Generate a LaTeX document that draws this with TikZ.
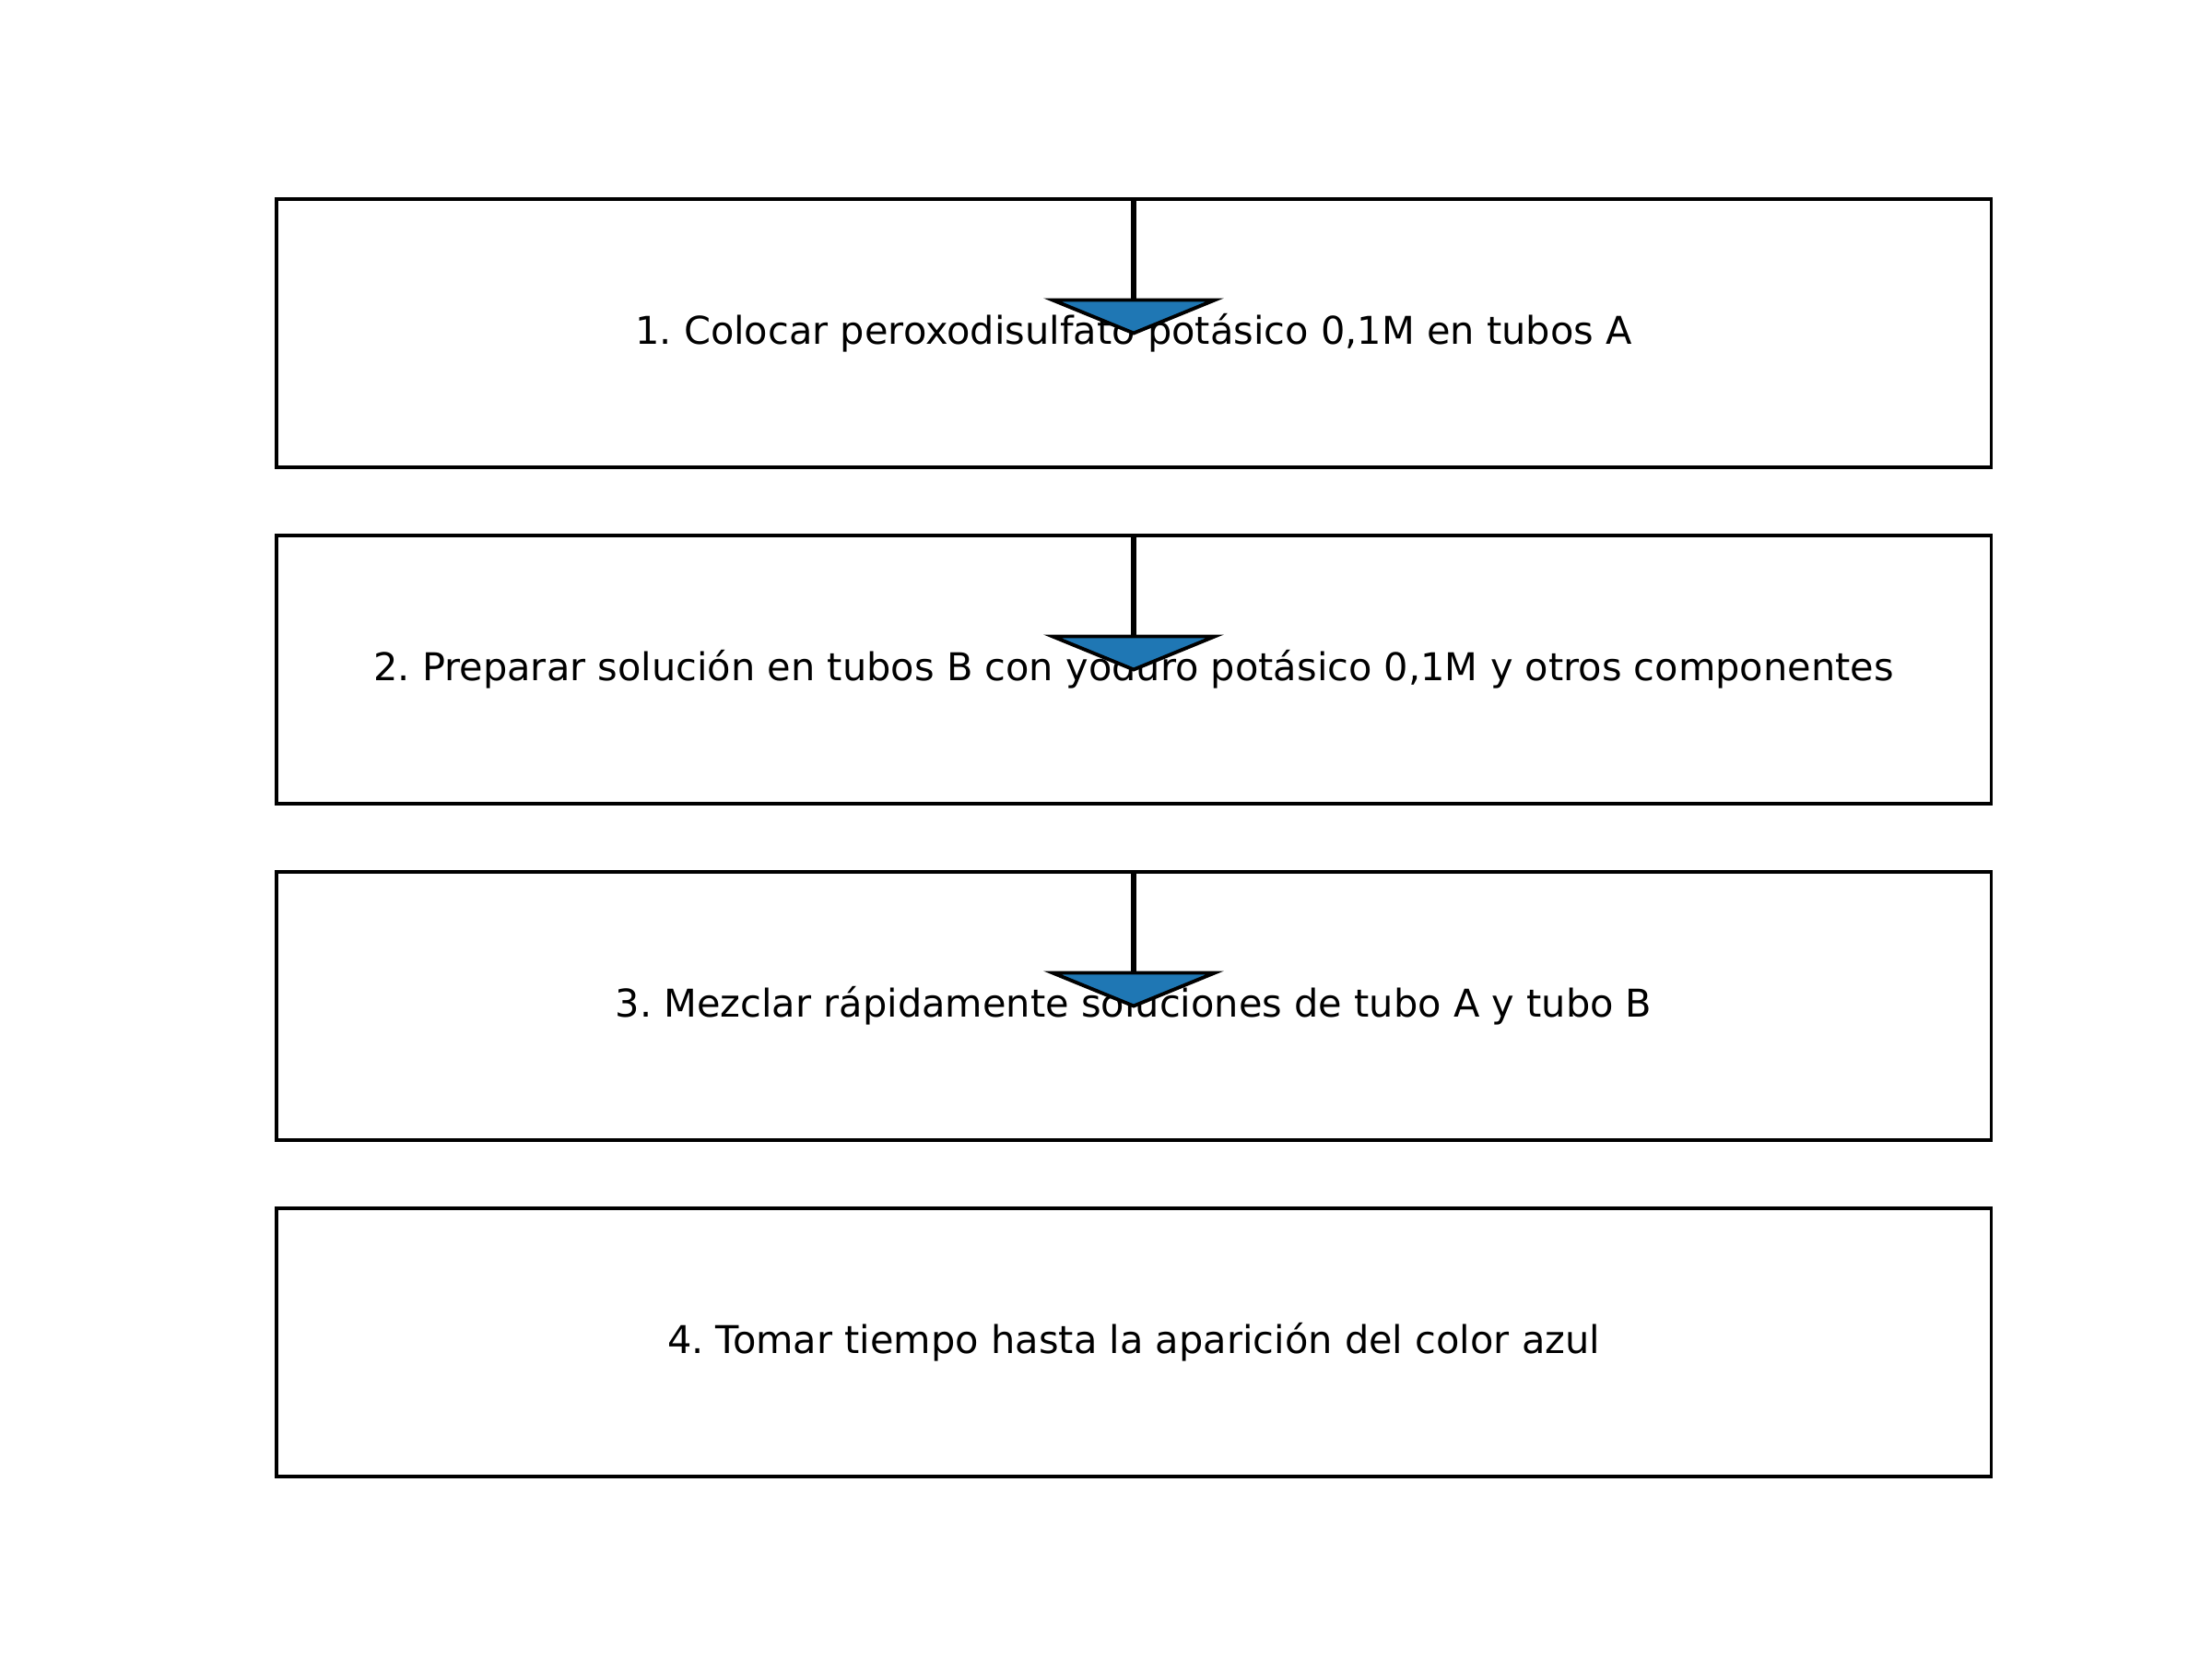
\documentclass[tikz,border=0pt]{standalone}
\usepackage{fontspec}
\setmainfont{DejaVu Sans}
\usepackage{tikz}
\usetikzlibrary{calc}

\definecolor{tabblue}{RGB}{31,119,180}

\tikzset{
    stepbox/.style={draw, line width=1.1pt, rectangle, minimum width=9.3in, minimum height=1.455in, inner sep=0pt, font=\fontsize{15}{18}\selectfont},
    shaft/.style={line width=2pt},
    head/.style={fill=tabblue, draw=black, line width=1.4pt, line join=miter}
}

\begin{document}
\frenchspacing
\begin{tikzpicture}[x=1in, y=1in]
        \useasboundingbox (0,0) rectangle (12,9);
        
        % Steps.
        \node[stepbox] (s1) at (6.15,7.1925) {1. Colocar peroxodisulfato potásico 0,1M en tubos A};
        \node[stepbox] (s2) at (6.15,5.3675) {2. Preparar solución en tubos B con yoduro potásico 0,1M y otros componentes};
        \node[stepbox] (s3) at (6.15,3.5425) {3. Mezclar rápidamente soluciones de tubo A y tubo B};
        \node[stepbox] (s4) at (6.15,1.7175) {4. Tomar tiempo hasta la aparición del color azul};
        
        % Arrows.
        \foreach \s in {s1,s2,s3}{
            \coordinate (\s base) at ($(\s.center)+(0,0.18)$);
            \draw[shaft] (\s.north) -- (\s base);
            \draw[head] ($(\s base)+(-0.44,0)$) -- ($(\s base)+(0.44,0)$) -- (\s.center) -- cycle;
        }
    \end{tikzpicture}
\end{document}
